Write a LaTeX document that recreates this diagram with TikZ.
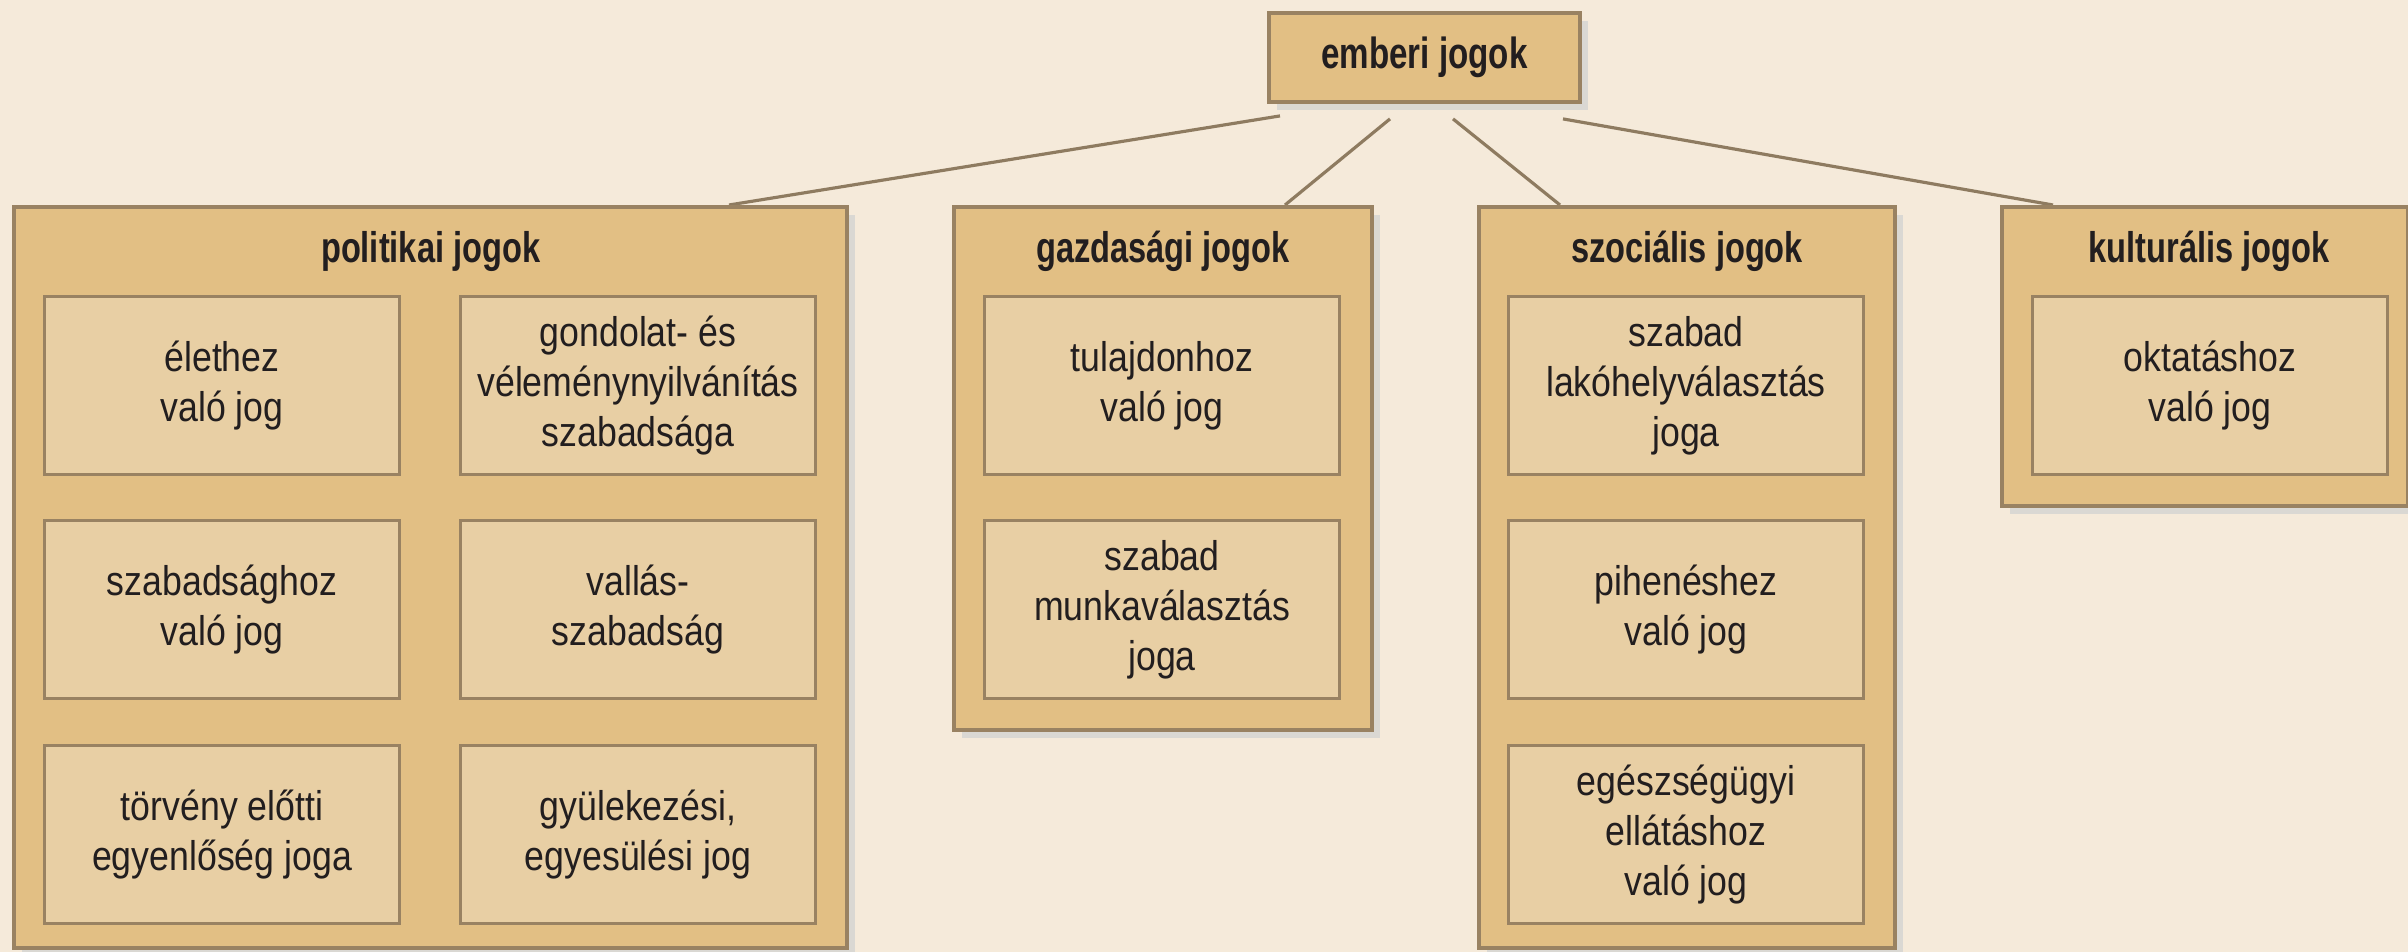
\documentclass[tikz,border=0pt]{standalone}
\usepackage{fontspec}
\setmainfont{Liberation Sans}[FakeStretch=0.86]
\newfontfamily\boldf{Liberation Sans}[FakeStretch=0.76]
\usetikzlibrary{calc,shadows}
\definecolor{bgc}{HTML}{F5EADA}
\definecolor{outerc}{HTML}{E2BF84}
\definecolor{innerc}{HTML}{E8CFA4}
\definecolor{bordc}{HTML}{998262}
\definecolor{linec}{HTML}{8E7B60}
\definecolor{txtc}{HTML}{221E1F}
\definecolor{shadc}{HTML}{DAD8D3}
\begin{document}
\begin{tikzpicture}[x=0.01cm,y=-0.01cm,
  shd/.style={drop shadow={shadow xshift=0.08cm,shadow yshift=-0.08cm,fill=shadc,opacity=1}},
  outerbox/.style={draw=bordc,fill=outerc,line width=1.1pt,inner sep=0pt,anchor=north west,shd},
  innerbox/.style={draw=bordc,fill=innerc,line width=0.8pt,inner sep=0pt,anchor=north west,
    minimum width=3.55cm,minimum height=1.78cm,align=center,text=txtc,
    font=\fontsize{11.8pt}{14.2pt}\selectfont},
  ttl/.style={anchor=base,text=txtc,inner sep=0pt,font=\boldf\bfseries\fontsize{12.2pt}{14pt}\selectfont},
  conn/.style={draw=linec,line width=0.9pt}]
\fill[bgc] (0,0) rectangle (2408,952);
\useasboundingbox (0,0) rectangle (2408,952);

% top node
\node[outerbox,minimum width=3.11cm,minimum height=0.89cm,text=txtc,
  font=\boldf\bfseries\fontsize{12.4pt}{14pt}\selectfont] (top) at (1267,11) {emberi jogok};

% coordinates of outer boxes (for connectors)
\coordinate (polnw) at (12,205);
\coordinate (gaznw) at (952,205);
\coordinate (socnw) at (1477,205);
\coordinate (kulnw) at (2000,205);

% connectors
\draw[conn] ($(top.south west)+(13,12)$) -- ($(polnw)+(717,0)$);
\draw[conn] ($(top.south west)+(123,15)$) -- ($(gaznw)+(333,0)$);
\draw[conn] ($(top.south west)+(186,15)$) -- ($(socnw)+(83,0)$);
\draw[conn] ($(top.south west)+(296,15)$) -- ($(kulnw)+(53,0)$);

% outer boxes
\node[outerbox,minimum width=8.33cm,minimum height=7.41cm] (pol) at (polnw) {};
\node[outerbox,minimum width=4.18cm,minimum height=5.23cm] (gaz) at (gaznw) {};
\node[outerbox,minimum width=4.16cm,minimum height=7.41cm] (soc) at (socnw) {};
\node[outerbox,minimum width=4.06cm,minimum height=2.99cm] (kul) at (kulnw) {};

% titles
\node[ttl] (polt) at ($(pol.north)+(0,58)$) {politikai jogok};
\node[ttl] (gazt) at ($(gaz.north)+(0,58)$) {gazdasági jogok};
\node[ttl] (soct) at ($(soc.north)+(0,58)$) {szociális jogok};
\node[ttl] (kult) at (2209,263) {kulturális jogok};

% politikai
\node[innerbox] (p1) at (43,295) {élethez\\való jog};
\node[innerbox] (p2) at (459,295) {gondolat- és\\véleménynyilvánítás\\szabadsága};
\node[innerbox] (p3) at (43,519) {szabadsághoz\\való jog};
\node[innerbox] (p4) at (459,519) {vallás-\\szabadság};
\node[innerbox] (p5) at (43,744) {törvény előtti\\egyenlőség joga};
\node[innerbox] (p6) at (459,744) {gyülekezési,\\egyesülési jog};

% gazdasagi
\node[innerbox] (g1) at (983,295) {tulajdonhoz\\való jog};
\node[innerbox] (g2) at (983,519) {szabad\\munkaválasztás\\joga};

% szocialis
\node[innerbox] (s1) at (1507,295) {szabad\\lakóhelyválasztás\\joga};
\node[innerbox] (s2) at (1507,519) {pihenéshez\\való jog};
\node[innerbox] (s3) at (1507,744) {egészségügyi\\ellátáshoz\\való jog};

% kulturalis
\node[innerbox] (k1) at (2031,295) {oktatáshoz\\való jog};
\end{tikzpicture}
\end{document}
